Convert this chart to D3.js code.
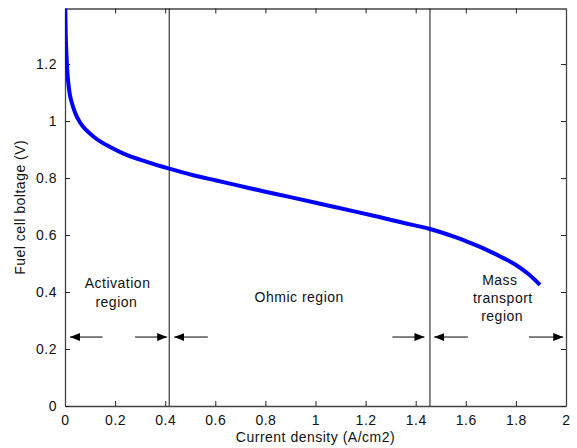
<!DOCTYPE html>
<html>
<head>
<meta charset="utf-8">
<script src="https://cdn.jsdelivr.net/npm/d3@7"></script>
<style>
  body { margin: 0; background: #fff; }
  text { font-family: "Liberation Sans", Arial, sans-serif; font-size: 14px; letter-spacing: 0.5px; fill: #111; }
</style>
</head>
<body>
<div class="chart"></div>
<script>
var svgWidth = 577;
var svgHeight = 448;

var margin = { top: 8.5, right: 11, bottom: 42, left: 65 };

var width = svgWidth - margin.left - margin.right;
var height = svgHeight - margin.top - margin.bottom;

// polarization curve
var currentDensity = [0.001, 0.003, 0.005, 0.007, 0.01, 0.013, 0.02, 0.027, 0.04, 0.06, 0.085, 0.113, 0.145, 0.18, 0.246, 0.326, 0.413, 0.512, 0.6, 0.685, 0.8, 0.9, 1.058, 1.15, 1.25, 1.35, 1.457, 1.55, 1.6, 1.65, 1.7, 1.75, 1.8, 1.85, 1.896];
var voltage = [1.40, 1.30, 1.25, 1.21, 1.165, 1.135, 1.09, 1.065, 1.03, 0.995, 0.968, 0.946, 0.926, 0.909, 0.881, 0.857, 0.834, 0.81, 0.792, 0.775, 0.752, 0.733, 0.702, 0.684, 0.664, 0.643, 0.621, 0.595, 0.579, 0.561, 0.541, 0.519, 0.495, 0.463, 0.425];

var xTicks = [0, 0.2, 0.4, 0.6, 0.8, 1, 1.2, 1.4, 1.6, 1.8, 2];
var yTicks = [0, 0.2, 0.4, 0.6, 0.8, 1, 1.2];

// region boundaries
var boundaries = [0.416, 1.457];

// arrows [from, to] in current density, all at same voltage
var arrowFrom = [0.15, 0.28, 0.57, 1.307, 1.608, 1.852];
var arrowTo = [0.02, 0.408, 0.436, 1.435, 1.474, 1.989];
var arrowV = 0.242;

// region labels
var labelText = ["Activation", "region", "Ohmic region", "Mass", "transport", "region"];
var labelX = [0.21, 0.205, 0.935, 1.736, 1.748, 1.745];
var labelV = [0.413, 0.348, 0.364, 0.425, 0.36, 0.299];

var svg = d3.select(".chart")
  .append("svg")
  .attr("width", svgWidth)
  .attr("height", svgHeight);

var chartGroup = svg.append("g")
  .attr("transform", `translate(${margin.left}, ${margin.top})`);

var xScale = d3.scaleLinear().domain([0, 2]).range([0, width]);
var yScale = d3.scaleLinear().domain([0, 1.395]).range([height, 0]);

svg.append("defs").append("clipPath").attr("id", "clip")
  .append("rect").attr("width", width).attr("height", height);

// axes with inward ticks, mirrored on top and right
var fmt = d => d3.format("~g")(d);
chartGroup.append("g")
  .attr("class", "axis")
  .attr("transform", `translate(0, ${height})`)
  .call(d3.axisBottom(xScale).tickValues(xTicks).tickFormat(fmt).tickSizeInner(-5).tickSizeOuter(0).tickPadding(9));
chartGroup.append("g")
  .attr("class", "axis")
  .call(d3.axisTop(xScale).tickValues(xTicks).tickFormat("").tickSizeInner(-5).tickSizeOuter(0));
chartGroup.append("g")
  .attr("class", "axis")
  .call(d3.axisLeft(yScale).tickValues(yTicks).tickFormat(fmt).tickSizeInner(-5).tickSizeOuter(0).tickPadding(8));
chartGroup.append("g")
  .attr("class", "axis")
  .attr("transform", `translate(${width}, 0)`)
  .call(d3.axisRight(yScale).tickValues(yTicks).tickFormat("").tickSizeInner(-5).tickSizeOuter(0));

chartGroup.selectAll(".axis path").attr("stroke", "#444").attr("stroke-width", 1.3);
chartGroup.selectAll(".axis line").attr("stroke", "#222");
chartGroup.selectAll(".axis text")
  .style("font-family", "'Liberation Sans', Arial, sans-serif")
  .style("font-size", "14px")
  .attr("fill", "#222");

// region boundary lines
chartGroup.selectAll(".boundary")
  .data(boundaries)
  .enter()
  .append("line")
  .attr("x1", d => xScale(d))
  .attr("x2", d => xScale(d))
  .attr("y1", 0)
  .attr("y2", height)
  .attr("stroke", "#111")
  .attr("stroke-width", 1);

// curve
var points = currentDensity.map((d, i) => [d, voltage[i]]);
var line = d3.line()
  .x(d => xScale(d[0]))
  .y(d => yScale(d[1]))
  .curve(d3.curveMonotoneX);

chartGroup.append("path")
  .datum(points)
  .attr("clip-path", "url(#clip)")
  .attr("d", line)
  .attr("fill", "none")
  .attr("stroke", "#0000ff")
  .attr("stroke-width", 4);

// arrows
svg.select("defs").append("marker")
  .attr("id", "head")
  .attr("viewBox", "0 0 10 8")
  .attr("refX", 10)
  .attr("refY", 4)
  .attr("markerWidth", 10)
  .attr("markerHeight", 8)
  .attr("markerUnits", "userSpaceOnUse")
  .attr("orient", "auto")
  .append("path")
  .attr("d", "M0,0 L10,4 L0,8 Z")
  .attr("fill", "#000");

chartGroup.selectAll(".arrow")
  .data(arrowFrom)
  .enter()
  .append("line")
  .attr("x1", d => xScale(d))
  .attr("x2", (d, i) => xScale(arrowTo[i]))
  .attr("y1", yScale(arrowV))
  .attr("y2", yScale(arrowV))
  .attr("stroke", "#000")
  .attr("stroke-width", 1)
  .attr("marker-end", "url(#head)");

// region labels
chartGroup.selectAll(".region")
  .data(labelText)
  .enter()
  .append("text")
  .attr("x", (d, i) => xScale(labelX[i]))
  .attr("y", (d, i) => yScale(labelV[i]))
  .attr("text-anchor", "middle")
  .text(d => d);

// axis titles
chartGroup.append("text")
  .attr("x", width / 2)
  .attr("y", height + 36)
  .attr("text-anchor", "middle")
  .text("Current density (A/cm2)");

chartGroup.append("text")
  .attr("transform", "rotate(-90)")
  .attr("x", -height / 2)
  .attr("y", -40)
  .attr("text-anchor", "middle")
  .text("Fuel cell boltage (V)");
</script>
</body>
</html>
